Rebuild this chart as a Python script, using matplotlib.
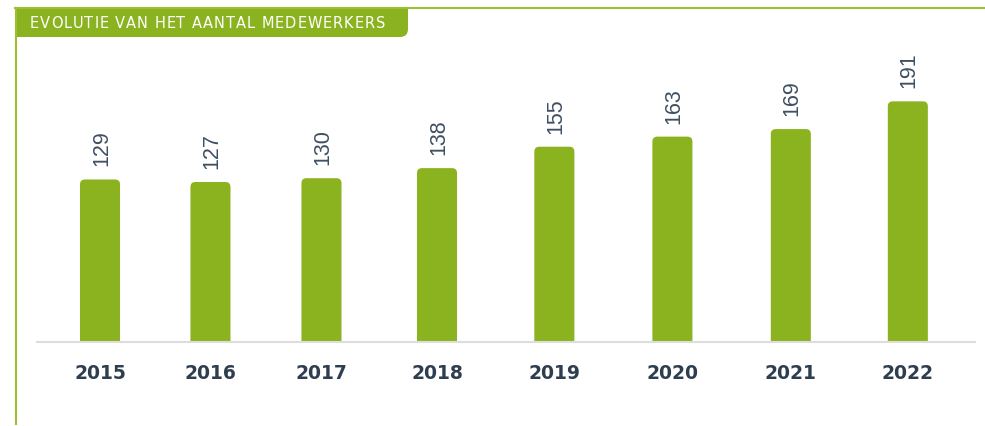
"""Evolutie van het aantal medewerkers - bar chart"""

import matplotlib
matplotlib.use("Agg")
import matplotlib.pyplot as plt
from matplotlib.patches import FancyBboxPatch, Rectangle
from matplotlib.lines import Line2D

years = ["2015", "2016", "2017", "2018", "2019", "2020", "2021", "2022"]
employees = [129, 127, 130, 138, 155, 163, 169, 191]
title = "EVOLUTIE VAN HET AANTAL MEDEWERKERS"

# the original spacing between bars is not perfectly even
xpos = [0, 0.957, 1.919, 2.920, 3.937, 4.960, 5.986, 7.0]

GREEN = "#8BB31F"
DARK = "#2E3E50"
W, H = 985, 427

fig = plt.figure(figsize=(W / 100, H / 100), dpi=100)

# axes placed in pixel terms: baseline at y=343, x from 37 to 975
ax = fig.add_axes([37 / W, (H - 343) / H, 938 / W, 315 / H])
ax.set_xlim(-0.546, 7.582)
ax.set_ylim(0, 250)

bars = ax.bar(xpos, employees, width=0.347, color=GREEN)

# round off top corners of the bars
px_x = 938 / (7.582 + 0.546)   # pixels per x unit
px_y = 315 / 250               # pixels per y unit
r = 5
for b in bars:
    x0, w, h = b.get_x(), b.get_width(), b.get_height()
    b.set_visible(False)
    ax.add_patch(FancyBboxPatch((x0, -20), w, h + 20,
                                boxstyle=f"round,pad=0,rounding_size={r / px_x}",
                                mutation_aspect=px_x / px_y,
                                fc=GREEN, ec="none", clip_on=True))
    ax.text(x0 + w / 2 + 1.5 / px_x, h + 14 / px_y, str(h), rotation=90,
            ha="center", va="bottom", fontsize=15.5, color="#3F4F63",
            family=["Liberation Sans", "DejaVu Sans"])

for s in ["top", "right", "left"]:
    ax.spines[s].set_visible(False)
ax.spines["bottom"].set_color("#DDDDDD")
ax.spines["bottom"].set_linewidth(1.5)
ax.set_yticks([])
ax.set_xticks(xpos)
ax.set_xticklabels(years, fontsize=13.5, fontweight="bold", color=DARK)
ax.tick_params(axis="x", length=0, pad=15)

# frame lines (figure pixel coordinates)
def fx(x):
    return x / W

def fy(y):
    return 1 - y / H

fig.add_artist(Line2D([fx(15), fx(985)], [fy(9), fy(9)], color="#9BBF35", lw=1.5))
fig.add_artist(Line2D([fx(15.5), fx(15.5)], [fy(9), fy(425)], color="#9BBF35", lw=1.5))

# header tab: rounded top-left and bottom-right corners
tx0, ty0, tx1, ty1 = 15, 8, 408, 38
fig.add_artist(FancyBboxPatch((fx(tx0), fy(ty1)), fx(tx1 - tx0), (ty1 - ty0) / H,
                              boxstyle=f"round,pad=0,rounding_size={8 / W}",
                              mutation_aspect=W / H, fc=GREEN, ec="none"))
fig.add_artist(Rectangle((fx(tx1 - 20), fy(ty0 + 15)), fx(20), 15 / H, fc=GREEN, ec="none"))
fig.add_artist(Rectangle((fx(tx0), fy(ty1)), fx(20), 15 / H, fc=GREEN, ec="none"))

# letter-spaced header text, placed character by character
renderer = fig.canvas.get_renderer()
t_left, t_right = 30, 385
fs = 10.5
widths = []
for ch in title:
    t = fig.text(0, 0, ch, fontsize=fs, family="DejaVu Sans")
    widths.append(t.get_window_extent(renderer).width if ch != " " else fs * 0.318 * 100 / 72)
    t.remove()
gap = (t_right - t_left - sum(widths)) / (len(title) - 1)
x = t_left
for ch, wd in zip(title, widths):
    fig.text(fx(x), fy(24), ch, color="white", fontsize=fs, va="center", ha="left",
             family="DejaVu Sans")
    x += wd + gap

fig.savefig("out.png", dpi=100)
